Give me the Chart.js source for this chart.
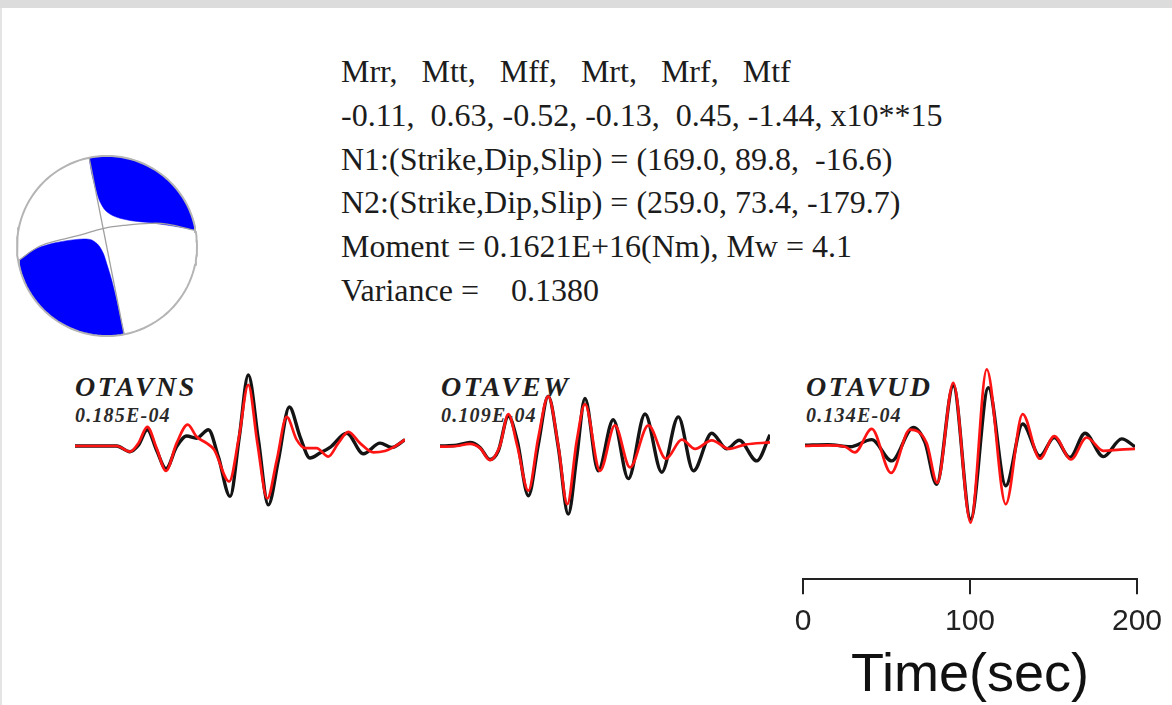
<!DOCTYPE html>
<html>
<head>
<meta charset="utf-8">
<script src="https://cdn.jsdelivr.net/npm/chart.js@4.4.1/dist/chart.umd.min.js"></script>
<style>
html, body { margin: 0; padding: 0; }
body { width: 1172px; height: 705px; overflow: hidden; background: #fff; position: relative; font-family: 'Liberation Serif', 'Times New Roman', serif; }
#topbar { position: absolute; left: 0; top: 0; width: 1172px; height: 8px; background: #dcdcdc; }
#leftbar { position: absolute; left: 0; top: 8px; width: 2px; height: 697px; background: #e4e4e4; }
#info { position: absolute; left: 341px; top: 50px; font-size: 32px; line-height: 43.8px; white-space: pre; color: #1c1c1c; }
.sta { position: absolute; font-weight: bold; font-style: italic; color: #1e1e1e; white-space: pre; }
.name { font-size: 28px; line-height: 28px; letter-spacing: 2.5px; }
.amp { font-size: 20px; line-height: 20px; letter-spacing: 1.2px; color: #2a2a2a; }
canvas { position: absolute; display: block; }
</style>
</head>
<body>
<div id="topbar"></div>
<div id="leftbar"></div>
<div id="info"></div>

<canvas id="ball" width="198" height="198" style="left:8px; top:147px;"></canvas>
<canvas id="trNS" width="330" height="220" style="left:75px; top:336px;"></canvas>
<canvas id="trEW" width="330" height="220" style="left:440px; top:336px;"></canvas>
<canvas id="trUD" width="330" height="220" style="left:805px; top:336px;"></canvas>
<canvas id="timeAxis" width="404" height="300" style="left:768px; top:409px;"></canvas>

<script>
'use strict';

// moment tensor solution
let tensorNames = ['Mrr', 'Mtt', 'Mff', 'Mrt', 'Mrf', 'Mtf'];
let tensorValues = [-0.11, 0.63, -0.52, -0.13, 0.45, -1.44];
let plane1 = [169.0, 89.8, -16.6];
let plane2 = [259.0, 73.4, -179.7];
let momentText = '0.1621E+16';
let magnitude = 4.1;
let variance = 0.1380;

// beachball (unit circle, north up)
let lobeNE = [[-0.197, 0.974], [-0.170, 0.808], [-0.122, 0.622], [-0.078, 0.492], [-0.022, 0.400], [0.052, 0.344],
  [0.144, 0.308], [0.292, 0.278], [0.478, 0.259], [0.663, 0.233], [0.848, 0.203], [0.978, 0.178]];
let lobeSW = [[-0.978, -0.163], [-0.819, -0.044], [-0.633, 0.022], [-0.448, 0.059], [-0.263, 0.078], [-0.170, 0.067],
  [-0.096, 0.011], [-0.041, -0.081], [-0.004, -0.192], [0.052, -0.378], [0.107, -0.600], [0.163, -0.859], [0.189, -0.970]];
let nodal1 = [[-0.197, 0.974], [0.189, -0.978]];
let nodal2 = [[-0.986, -0.163], [-0.744, 0.0], [-0.522, 0.067], [-0.300, 0.122], [-0.033, 0.197], [0.222, 0.233],
  [0.478, 0.252], [0.667, 0.244], [0.989, 0.170]];

// stations
let stationNames = ['OTAVNS', 'OTAVEW', 'OTAVUD'];
let stationAmps = ['0.185E-04', '0.109E-04', '0.134E-04'];

// waveforms: time (s) and normalised amplitude, black = observed, red = synthetic
let nsObsT = [0, 25.2, 33.2, 38.3, 43.7, 49.3, 55.0, 61.4, 67.5, 73.5, 80.6, 86.6, 93.7, 99.3, 104.7, 110.8, 116.8, 122.9, 129.5, 136.0, 142.0, 148.0, 154.1, 164.2, 174.2, 184.3, 191.4, 199.4];
let nsObsA = [0, 0, -0.08, 0.01, 0.23, -0.06, -0.32, -0.01, 0.14, 0.11, 0.23, -0.15, -0.71, 0.13, 1.0, 0.09, -0.83, -0.2, 0.55, 0.13, -0.17, -0.1, -0.02, 0.18, -0.11, 0.04, -0.02, 0.09];
let nsSynT = [0, 25.2, 33.2, 38.3, 43.7, 49.3, 55.0, 61.4, 68.1, 73.5, 79.5, 84.0, 93.2, 99.1, 104.7, 110.2, 116.2, 121.9, 127.9, 133.9, 138.9, 146.0, 153.1, 159.1, 165.2, 172.2, 180.3, 187.3, 192.3, 199.4];
let nsSynA = [0, 0, -0.08, 0.04, 0.27, -0.03, -0.35, 0.04, 0.30, 0.13, 0.04, -0.05, -0.50, 0.13, 0.86, 0.04, -0.74, -0.2, 0.41, 0.09, -0.03, -0.03, -0.15, 0.04, 0.2, 0.04, -0.09, -0.07, -0.02, 0.09];

let ewObsT = [0, 10.1, 18.1, 24.2, 30.2, 35.2, 41.3, 46.7, 53.4, 59.4, 65.4, 71.5, 77.5, 82.6, 87.6, 95.6, 104.7, 113.8, 123.9, 134.0, 144.0, 153.1, 164.2, 173.2, 180.8, 191.4, 199.4];
let ewObsA = [0, 0.01, 0.05, -0.02, -0.19, -0.07, 0.42, 0.07, -0.70, 0.02, 0.70, -0.02, -0.96, -0.16, 0.67, -0.35, 0.37, -0.46, 0.45, -0.37, 0.41, -0.35, 0.18, -0.04, 0.08, -0.21, 0.16];
let ewSynT = [0, 10.1, 18.1, 24.2, 30.2, 36.2, 41.3, 46.7, 53.4, 59.4, 65.4, 71.5, 76.9, 82.6, 87.6, 96.7, 105.7, 114.8, 125.9, 136.6, 146.1, 154.1, 164.2, 174.8, 184.3, 199.4];
let ewSynA = [-0.01, 0, 0.03, -0.03, -0.2, 0, 0.45, 0, -0.63, 0.12, 0.7, 0, -0.82, 0.07, 0.59, -0.35, 0.29, -0.3, 0.29, -0.18, 0.09, -0.04, 0.08, -0.04, 0.02, 0.05];

let udObsT = [0, 14.1, 27.2, 40.3, 52.4, 65.4, 72.5, 79.5, 89.6, 100.1, 110.8, 121.3, 131.5, 141.9, 150.6, 160.1, 169.2, 180.3, 191.4, 199.4];
let udObsA = [0.01, 0.02, -0.01, 0.09, -0.21, 0.26, 0.05, -0.54, 0.85, -1.03, 0.82, -0.56, 0.31, -0.14, 0.12, -0.16, 0.18, -0.15, 0.1, -0.01];
let udSynT = [0, 14.1, 24.2, 30.2, 40.3, 52.0, 63.4, 73.5, 79.9, 89.6, 100.1, 109.8, 121.3, 131.5, 141.9, 150.6, 160.7, 170.2, 180.3, 190.3, 199.4];
let udSynA = [0, 0.01, -0.01, -0.09, 0.24, -0.38, 0.23, 0.04, -0.52, 0.89, -1.08, 1.08, -0.82, 0.45, -0.18, 0.14, -0.19, 0.12, -0.07, -0.05, -0.04];

// time scale bar
let timeTicks = [0, 100, 200];
let timeTitle = 'Time(sec)';


Chart.defaults.animation = false;
Chart.defaults.plugins.legend.display = false;
Chart.defaults.plugins.tooltip.enabled = false;

function renderInfo() {
  let vals = tensorValues.map(v => (v >= 0 ? ' ' : '') + v.toFixed(2));
  let planeText = p => '(' + p[0].toFixed(1) + ', ' + p[1].toFixed(1) + ', ' + p[2].toFixed(1).padStart(6) + ')';
  let lines = [
    tensorNames.join(',   '),
    vals.join(', ') + ', x10**15',
    'N1:(Strike,Dip,Slip) = ' + planeText(plane1),
    'N2:(Strike,Dip,Slip) = ' + planeText(plane2),
    'Moment = ' + momentText + '(Nm), Mw = ' + magnitude.toFixed(1),
    'Variance =    ' + variance.toFixed(4),
  ];
  document.getElementById('info').textContent = lines.join('\n');
}

function toPoints(pairs) {
  return pairs.map(p => ({ x: p[0], y: p[1] }));
}

// points on the rim of the ball, from angle a0 to a1 (degrees)
function rim(a0, a1, n) {
  let pts = [];
  for (let i = 0; i <= n; i++) {
    let a = (a0 + (a1 - a0) * i / n) * Math.PI / 180;
    pts.push({ x: Math.cos(a), y: Math.sin(a) });
  }
  return pts;
}

function angleOf(p) {
  return Math.atan2(p[1], p[0]) * 180 / Math.PI;
}

function renderBall() {
  let ne = toPoints(lobeNE).concat(rim(angleOf(lobeNE[lobeNE.length - 1]), angleOf(lobeNE[0]), 30));
  let sw = toPoints(lobeSW).concat(rim(angleOf(lobeSW[lobeSW.length - 1]), angleOf(lobeSW[0]), 30));
  let blue = { showLine: true, fill: 'shape', backgroundColor: '#0000fe', borderColor: '#0000fe', borderWidth: 0.5, pointRadius: 0, tension: 0.3, order: 3 };
  let gray = { showLine: true, fill: false, borderColor: '#a0a0a0', borderWidth: 1.3, pointRadius: 0, order: 2 };

  new Chart(document.getElementById('ball'), {
    type: 'scatter',
    data: {
      datasets: [
        Object.assign({ data: ne }, blue),
        Object.assign({ data: sw }, blue),
        Object.assign({ data: toPoints(nodal1), tension: 0 }, gray),
        Object.assign({ data: toPoints(nodal2), tension: 0.4 }, gray),
        { data: rim(0, 360, 120), showLine: true, fill: false, borderColor: '#b4b4b4', borderWidth: 2, pointRadius: 0, tension: 0, order: 1 },
      ],
    },
    options: {
      responsive: false,
      layout: { padding: 0 },
      scales: {
        x: { type: 'linear', min: -1.1, max: 1.1, display: false },
        y: { type: 'linear', min: -1.1, max: 1.1, display: false },
      },
    },
  });
}

function trace(t, a) {
  return t.map((v, i) => ({ x: v, y: a[i] }));
}

function renderTrace(canvasId, obsT, obsA, synT, synA) {
  let common = { showLine: true, fill: false, pointRadius: 0, cubicInterpolationMode: 'monotone', clip: false };
  new Chart(document.getElementById(canvasId), {
    type: 'scatter',
    data: {
      datasets: [
        Object.assign({ data: trace(synT, synA), borderColor: '#ff1414', borderWidth: 2.7, order: 1 }, common),
        Object.assign({ data: trace(obsT, obsA), borderColor: '#141414', borderWidth: 3.4, order: 2 }, common),
      ],
    },
    options: {
      responsive: false,
      layout: { padding: 0 },
      scales: {
        x: { type: 'linear', min: 0, max: 199.4, display: false },
        y: { type: 'linear', min: -1.55, max: 1.55, display: false },
      },
    },
  });
}

function renderLabels() {
  let lefts = [75, 441, 806];
  for (let i = 0; i < stationNames.length; i++) {
    let n = document.createElement('div');
    n.className = 'sta name';
    n.style.left = lefts[i] + 'px';
    n.style.top = '373px';
    n.textContent = stationNames[i];
    document.body.insertBefore(n, document.getElementById('ball'));
    let a = document.createElement('div');
    a.className = 'sta amp';
    a.style.left = lefts[i] + 'px';
    a.style.top = '405px';
    a.textContent = stationAmps[i];
    document.body.insertBefore(a, document.getElementById('ball'));
  }
}

function renderTimeAxis() {
  new Chart(document.getElementById('timeAxis'), {
    type: 'scatter',
    data: { datasets: [{ data: [] }] },
    options: {
      responsive: false,
      layout: { padding: { left: 35, right: 35, top: 10, bottom: 0 } },
      scales: {
        x: {
          type: 'linear',
          position: 'bottom',
          min: timeTicks[0],
          max: timeTicks[timeTicks.length - 1],
          afterBuildTicks: axis => { axis.ticks = timeTicks.map(v => ({ value: v })); },
          ticks: { color: '#222', padding: 10, maxRotation: 0, font: { family: 'Liberation Sans', size: 30 } },
          grid: { drawOnChartArea: false, drawTicks: true, tickLength: 15, color: '#222', lineWidth: 2 },
          border: { display: true, color: '#222', width: 2 },
          title: { display: true, text: timeTitle, color: '#111', padding: { top: -6, bottom: 0 }, font: { family: 'Liberation Sans', size: 54 } },
        },
        y: { display: false, min: 0, max: 1 },
      },
    },
  });
}

renderInfo();
renderLabels();
renderBall();
renderTrace('trNS', nsObsT, nsObsA, nsSynT, nsSynA);
renderTrace('trEW', ewObsT, ewObsA, ewSynT, ewSynA);
renderTrace('trUD', udObsT, udObsA, udSynT, udSynA);
renderTimeAxis();
</script>
</body>
</html>
